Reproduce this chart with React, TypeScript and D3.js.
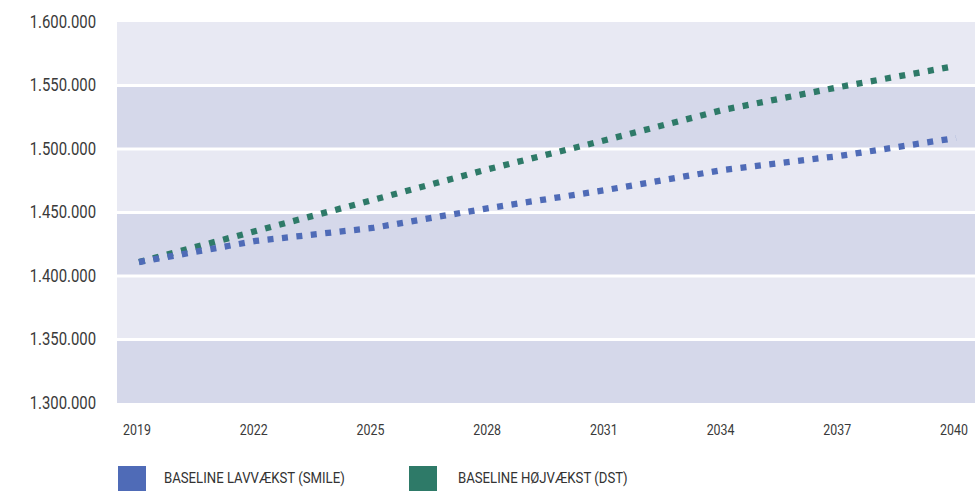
import React from "react";
import * as d3 from "d3";

const years = [2019, 2022, 2025, 2028, 2031, 2034, 2037, 2040];
const lavvaekst = [1411000, 1427600, 1437800, 1453500, 1467700, 1483500, 1494500, 1508700];
const hojvaekst = [1411000, 1435400, 1459800, 1484300, 1507100, 1530700, 1548800, 1565400];
const yTicks = [1300000, 1350000, 1400000, 1450000, 1500000, 1550000, 1600000];
const seriesNames = ["BASELINE LAVVÆKST (SMILE)", "BASELINE HØJVÆKST (DST)"];

const W = 979;
const H = 491;
const plotLeft = 117;
const plotRight = 975;
const plotTop = 22;
const plotBottom = 403;

const BLUE = "#4f6bb7";
const GREEN = "#2e7a68";
const FONT = "Roboto, sans-serif";

const fmt = (v: number) => d3.format(",")(v).replace(/,/g, ".");

export default function App() {
  const x = d3.scaleLinear().domain([2019, 2040]).range([139, 956]);
  const y = d3.scaleLinear().domain([1300000, 1600000]).range([plotBottom, plotTop]);

  const line = d3
    .line<number>()
    .x((_, i) => x(years[i]))
    .y((d) => y(d));

  const bands = yTicks.slice(0, -1).map((v, i) => ({
    y0: y(v + 50000),
    y1: y(v),
    dark: i % 2 === 0,
  }));

  return (
    <svg width={W} height={H} style={{ position: "absolute", left: 0, top: 0, background: "#fff" }}>
      {bands.map((b, i) => (
        <rect
          key={i}
          x={plotLeft}
          y={b.y0 + (i === bands.length - 1 ? 0 : 1.5)}
          width={plotRight - plotLeft}
          height={b.y1 - b.y0 - (i === bands.length - 1 ? 1.5 : 3) + (i === 0 ? 1.5 : 0)}
          fill={b.dark ? "#d5d8ea" : "#e8e9f3"}
        />
      ))}
      {yTicks.map((v) => (
        <text
          key={v}
          transform={`translate(96,${y(v)}) scale(0.85,1)`}
          textAnchor="end"
          dominantBaseline="central"
          fontFamily={FONT}
          fontSize={17.5}
          fill="#3a3a3a"
        >
          {fmt(v)}
        </text>
      ))}
      {years.map((yr) => (
        <text
          key={yr}
          transform={`translate(${x(yr) - 2},429) scale(0.8,1)`}
          textAnchor="middle"
          dominantBaseline="central"
          fontFamily={FONT}
          fontSize={15.5}
          fill="#3a3a3a"
        >
          {yr}
        </text>
      ))}
      <path
        d={line(hojvaekst) || ""}
        fill="none"
        stroke={GREEN}
        strokeWidth={6.3}
        strokeDasharray="6 8.5"
      />
      <path
        d={line(lavvaekst) || ""}
        fill="none"
        stroke={BLUE}
        strokeWidth={6.3}
        strokeDasharray="6 8.5"
      />
      {seriesNames.map((name, i) => {
        const lx = i === 0 ? 118 : 409;
        const tx = i === 0 ? 164 : 458;
        return (
          <g key={name}>
            <rect x={lx} y={466} width={28} height={25} fill={i === 0 ? BLUE : GREEN} />
            <text
              transform={`translate(${tx},478) scale(0.85,1)`}
              dominantBaseline="central"
              fontFamily={FONT}
              fontSize={15.5}
              fill="#333"
            >
              {name}
            </text>
          </g>
        );
      })}
    </svg>
  );
}
